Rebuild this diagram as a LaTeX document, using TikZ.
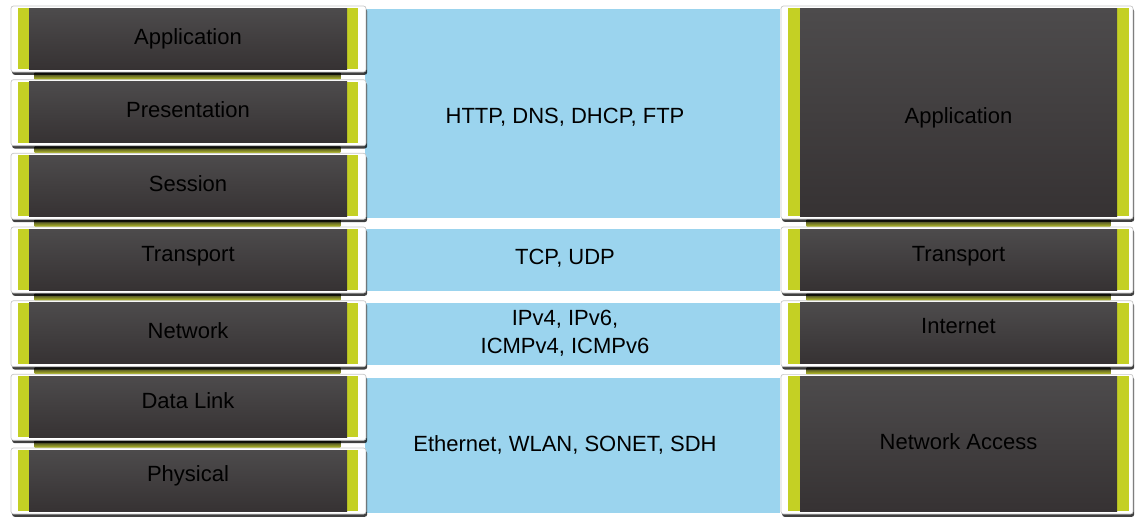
\documentclass[tikz,border=0pt]{standalone}
\usepackage{fontspec}
\setmainfont{Liberation Sans}
\usetikzlibrary{shadows,backgrounds,positioning}

\newcommand{\layerfont}{\fontsize{22}{28}\selectfont}

\definecolor{bandblue}{RGB}{155,212,238}
\definecolor{stripegreen}{RGB}{196,208,36}
\definecolor{coretop}{RGB}{77,75,76}
\definecolor{corebot}{RGB}{54,50,51}
\definecolor{gapolive}{RGB}{186,194,40}

\tikzset{
	frame/.style={fill=white, draw=black!22, line width=0.7pt, rounded corners=2.5pt, inner sep=0pt, minimum height=66pt,
		drop shadow={shadow xshift=1.2pt, shadow yshift=-2.8pt, opacity=0.75, fill=black}},
	stripe/.style={fill=stripegreen, inner sep=0pt, minimum height=61pt},
	core/.style={top color=coretop, bottom color=corebot, inner sep=0pt, minimum height=61pt,
		font=\layerfont, text=black, text height=15.7pt, text depth=5pt},
	band/.style={fill=bandblue, inner sep=0pt, minimum width=415pt},
	proto/.style={font=\layerfont, inner sep=0pt, align=center, text=black},
	gapstrip/.style={top color=black!85, bottom color=gapolive},
}

\begin{document}
\begin{tikzpicture}[x=1pt,y=1pt,yscale=-1]
	\useasboundingbox (0,0) rectangle (1140,520);

	% OSI model, left column
	\node [frame, minimum width=355pt] (osiAppF) at (188.5,39) {};
	\node [stripe, minimum width=340pt] (osiAppS) at (188,38.5) {};
	\node [core, minimum width=318pt, text depth=3pt] (osiApp) at (188,38.5) {Application};

	\node [frame, minimum width=355pt] (osiPresF) at (188.5,112.7) {};
	\node [stripe, minimum width=340pt] (osiPresS) at (188,112.2) {};
	\node [core, minimum width=318pt] (osiPres) at (188,112.2) {Presentation};

	\node [frame, minimum width=355pt] (osiSessF) at (188.5,186.3) {};
	\node [stripe, minimum width=340pt] (osiSessS) at (188,185.8) {};
	\node [core, minimum width=318pt] (osiSess) at (188,185.8) {Session};

	\node [frame, minimum width=355pt] (osiTranF) at (188.5,260) {};
	\node [stripe, minimum width=340pt] (osiTranS) at (188,259.5) {};
	\node [core, minimum width=318pt, text depth=11pt] (osiTran) at (188,259.5) {Transport};

	\node [frame, minimum width=355pt] (osiNetF) at (188.5,333.7) {};
	\node [stripe, minimum width=340pt] (osiNetS) at (188,333.2) {};
	\node [core, minimum width=318pt] (osiNet) at (188,333.2) {Network};

	\node [frame, minimum width=355pt] (osiLinkF) at (188.5,407.3) {};
	\node [stripe, minimum width=340pt] (osiLinkS) at (188,406.8) {};
	\node [core, minimum width=318pt, text depth=11.5pt] (osiLink) at (188,406.8) {Data Link};

	\node [frame, minimum width=355pt] (osiPhysF) at (188.5,481) {};
	\node [stripe, minimum width=340pt] (osiPhysS) at (188,480.5) {};
	\node [core, minimum width=318pt, text depth=13pt] (osiPhys) at (188,480.5) {Physical};

	% TCP/IP model, right column
	\node [frame, minimum width=352pt, minimum height=213pt] (tcpAppF) at (957,112.5) {};
	\node [stripe, minimum width=341pt, minimum height=208pt] (tcpAppS) at (958.5,112) {};
	\node [core, minimum width=317pt, minimum height=208pt, text height=23.3pt, text depth=0pt] (tcpApp) at (958.5,112) {Application};

	\node [frame, minimum width=352pt] (tcpTranF) at (957,260) {};
	\node [stripe, minimum width=341pt] (tcpTranS) at (958.5,259.5) {};
	\node [core, minimum width=317pt, text depth=11pt] (tcpTran) at (958.5,259.5) {Transport};

	\node [frame, minimum width=352pt] (tcpNetF) at (957,333.7) {};
	\node [stripe, minimum width=341pt] (tcpNetS) at (958.5,333.2) {};
	\node [core, minimum width=317pt, text depth=15pt] (tcpNet) at (958.5,333.2) {Internet};

	\node [frame, minimum width=352pt, minimum height=139.7pt] (tcpAccF) at (957,444.2) {};
	\node [stripe, minimum width=341pt, minimum height=134.7pt] (tcpAccS) at (958.5,443.7) {};
	\node [core, minimum width=317pt, minimum height=134.7pt, text depth=3.4pt] (tcpAcc) at (958.5,443.7) {Network Access};

	% Protocols in the middle
	\begin{scope}[on background layer]
		\node [band, minimum height=209pt] (bandApp) at (572.5,113.5) {};
		\node [band, minimum height=62pt] (bandTran) at (572.5,260) {};
		\node [band, minimum height=62pt] (bandNet) at (572.5,334) {};
		\node [band, minimum height=135pt] (bandAcc) at (572.5,445.5) {};

		% gaps between stacked layers
		\foreach \topF/\botF in {osiAppF/osiPresF, osiPresF/osiSessF, osiSessF/osiTranF, osiTranF/osiNetF, osiNetF/osiLinkF, osiLinkF/osiPhysF}
			\fill [gapstrip] ([xshift=24pt]\topF.south west) rectangle ([xshift=-26pt]\botF.north east);
		\foreach \topF/\botF in {tcpAppF/tcpTranF, tcpTranF/tcpNetF, tcpNetF/tcpAccF}
			\fill [gapstrip] ([xshift=26pt]\topF.south west) rectangle ([xshift=-23pt]\botF.north east);
	\end{scope}

	\node [proto, text height=15.7pt, text depth=0pt] (httpText) at ([xshift=-7.5pt,yshift=2.5pt]bandApp.center) {HTTP, DNS, DHCP, FTP};
	\node [proto, text height=15.7pt, text depth=0pt] (tcpText) at ([xshift=-7.5pt,yshift=-3.7pt]bandTran.center) {TCP, UDP};
	\node [proto] (ipText) at ([xshift=-7.5pt,yshift=-0.5pt]bandNet.center) {IPv4, IPv6,\\ICMPv4, ICMPv6};
	\node [proto, text height=15.7pt, text depth=0pt] (ethText) at ([xshift=-7.5pt,yshift=-1.5pt]bandAcc.center) {Ethernet, WLAN, SONET, SDH};

\end{tikzpicture}
\end{document}
